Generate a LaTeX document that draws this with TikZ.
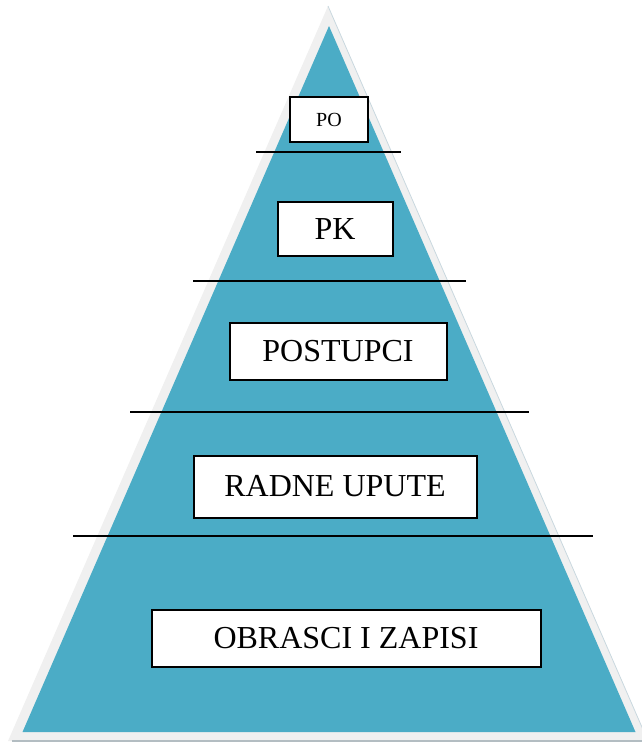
\documentclass[tikz,border=0pt]{standalone}
\usepackage{fontspec}
\setmainfont{Liberation Serif}
\definecolor{teal1}{HTML}{4BACC6}
\definecolor{outergray}{HTML}{F0F0F0}
\definecolor{outeredge}{HTML}{C9D8DF}
\begin{document}
\begin{tikzpicture}[x=1pt,y=-1pt,
  label box/.style={draw=black,line width=2pt,fill=white,inner sep=0pt,font=\fontsize{32}{36}\selectfont},
  divider/.style={draw=black,line width=1.8pt}]
\useasboundingbox (0,0) rectangle (642,742);
% outer shadow triangle
\fill[outergray] (328,6) -- (8,741) -- (648,741) -- cycle;
\draw[outeredge,line width=0.8pt] (328,6) -- (648,741);
\draw[outeredge!70!gray,line width=1.5pt] (12,741) -- (642,741);
% main triangle
\fill[teal1] (329,26) -- (22.5,732) -- (635.5,732) -- cycle;
% boxes
\node[label box,minimum width=78pt,minimum height=45pt,font=\fontsize{20}{24}\selectfont] (po) at (329,119.5) {PO};
\node[label box,minimum width=115pt,minimum height=54pt] (pk) at (335,229) {PK};
\node[label box,minimum width=217pt,minimum height=57pt] (post) at (338,351.5) {POSTUPCI};
\node[label box,minimum width=283pt,minimum height=62pt] (radne) at (335,486.5) {RADNE UPUTE};
\node[label box,minimum width=389pt,minimum height=57pt] (obr) at (346,638.5) {OBRASCI I ZAPISI};
% divider lines
\coordinate (l1a) at (256,152); \coordinate (l1b) at (401,152);
\coordinate (l2a) at (193,281); \coordinate (l2b) at (466,281);
\coordinate (l3a) at (130,412); \coordinate (l3b) at (529,412);
\coordinate (l4a) at (73,536); \coordinate (l4b) at (593,536);
\draw[divider] (l1a) -- (l1b);
\draw[divider] (l2a) -- (l2b);
\draw[divider] (l3a) -- (l3b);
\draw[divider] (l4a) -- (l4b);
\end{tikzpicture}
\end{document}
